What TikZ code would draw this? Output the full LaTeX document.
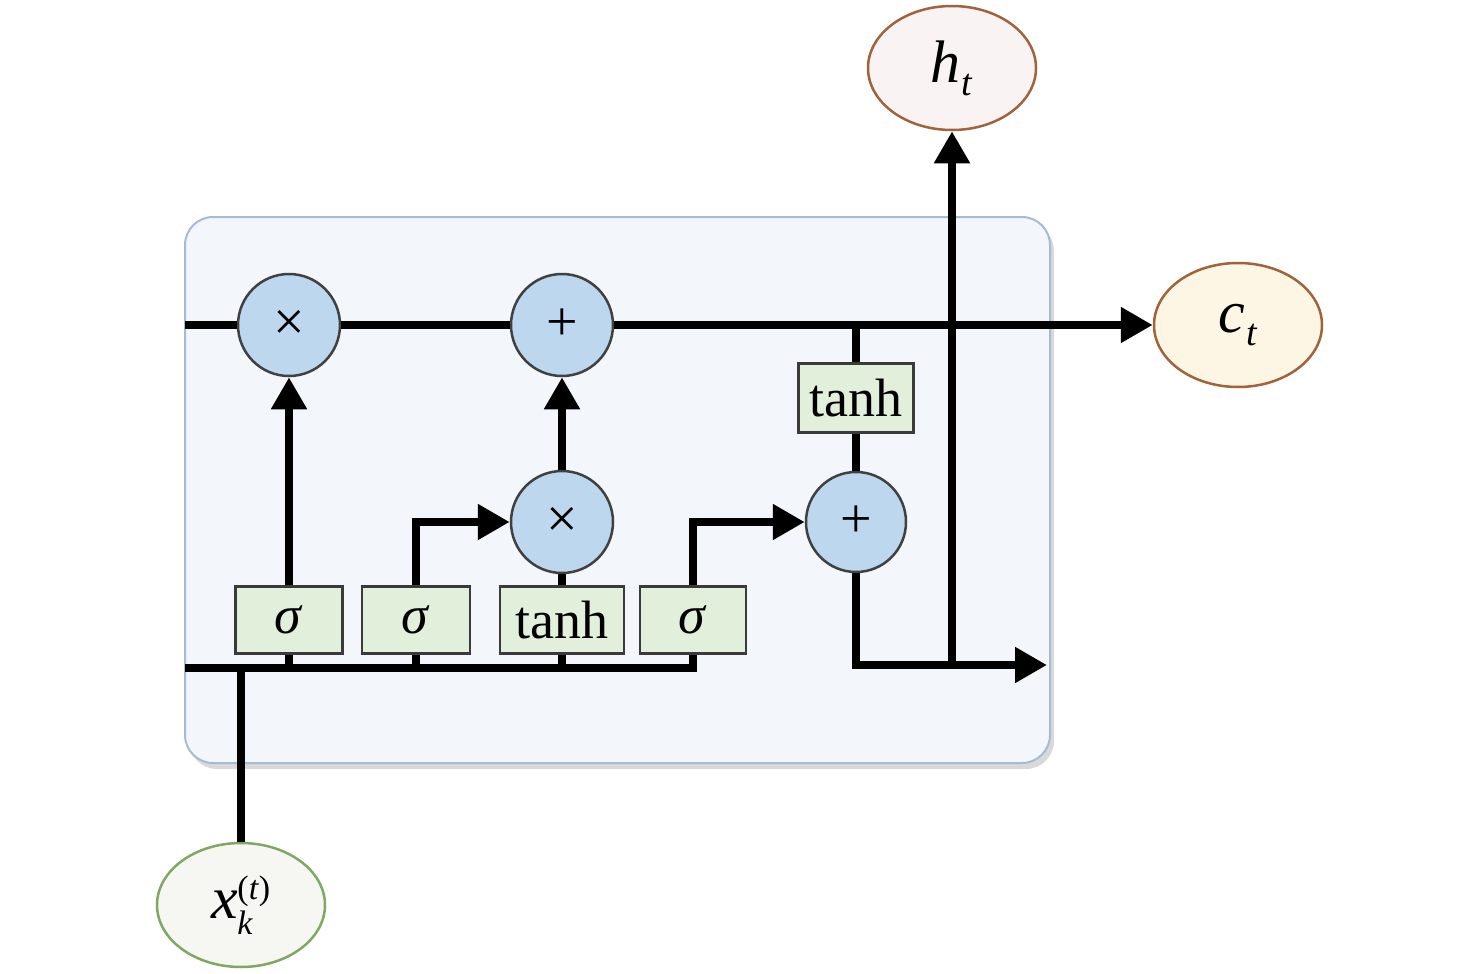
\documentclass[tikz,border=0pt]{standalone}
\usepackage{fontspec}
\setmainfont{Liberation Serif}
\usetikzlibrary{arrows.meta,shadows,shapes.geometric}
\definecolor{boxfill}{HTML}{F3F6FA}
\definecolor{boxdraw}{HTML}{A7BAD6}
\definecolor{opfill}{HTML}{BDD7EE}
\definecolor{opdraw}{HTML}{404040}
\definecolor{actfill}{HTML}{E2EFDA}
\definecolor{actdraw}{HTML}{3A3A3A}
\definecolor{ebrown}{HTML}{A0633A}
\definecolor{hfill}{HTML}{F9F4F3}
\definecolor{cfill}{HTML}{FEF6E4}
\definecolor{xfill}{HTML}{F6F7F3}
\definecolor{xdraw}{HTML}{7FA862}
\begin{document}
\begin{tikzpicture}[x=1pt,y=-1pt,
  wire/.style={line width=8pt},
  arr/.style={wire,-{Triangle[length=32pt,width=34pt]}},
  cellbox/.style={draw=boxdraw,fill=boxfill,line width=2pt,rounded corners=28pt,
    minimum width=865pt,minimum height=546pt,inner sep=0pt,
    drop shadow={opacity=0.3,shadow xshift=4pt,shadow yshift=-6pt}},
  op/.style={circle,draw=opdraw,fill=opfill,line width=2.5pt,minimum size=102pt,inner sep=0pt,
    font=\fontsize{56}{56}\selectfont},
  act/.style={draw=actdraw,fill=actfill,line width=2.5pt,minimum height=67pt,inner sep=0pt,
    font=\fontsize{54}{54}\selectfont},
  io/.style={ellipse,line width=2.5pt,minimum width=168pt,minimum height=124pt,inner sep=0pt,
    font=\fontsize{60}{60}\selectfont}]
\useasboundingbox (0,0) rectangle (1476,974);
\node[cellbox] (cell) at (617.5,490) {};
% operators
\node[op] (m1) at (289,325) {×};
\node[op] (a1) at (562,325) {+};
\node[op] (m2) at (562,522) {×};
\node[op,minimum size=100pt] (a2) at (856,522) {+};
% activations
\node[act,minimum width=115pt,minimum height=69pt] (th1) at (856,398) {tanh};
\node[act,minimum width=107pt] (s1) at (289,620) {\textit{σ}};
\node[act,minimum width=108pt] (s2) at (416,620) {\textit{σ}};
\node[act,minimum width=124pt] (th2) at (562,620) {tanh};
\node[act,minimum width=106pt] (s3) at (693,620) {\textit{σ}};
% inputs / outputs
\node[io,draw=ebrown,fill=hfill] (ht) at (952,68) {\textit{h}\kern1pt\raisebox{-13pt}{\fontsize{38}{38}\selectfont\textit{t}}};
\node[io,draw=ebrown,fill=cfill] (ct) at (1238,325) {\textit{c}\kern1pt\raisebox{-13pt}{\fontsize{38}{38}\selectfont\textit{t}}};
\node[io,draw=xdraw,fill=xfill] (xk) at (241,905) {\textit{x}\kern-1pt\rlap{\raisebox{-16pt}{\fontsize{34}{34}\selectfont\textit{k}}}\raisebox{19pt}{\fontsize{34}{34}\selectfont(\textit{t})}};
% coordinates
\coordinate (cin) at (185,325);
\coordinate (bin) at (185,668);
\coordinate (bend) at (697,668);
\coordinate (outr) at (1047,665);
% top cell line
\draw[wire] (cin) -- (m1.west);
\draw[wire] (m1.east) -- (a1.west);
\draw[arr] (a1.east) -- (ct.west);
% bottom input bus
\draw[wire] (bin) -- (bend);
\draw[wire] (xk.north) -- (xk.north |- bin);
\draw[wire] (s1.south) -- (s1.south |- bin);
\draw[wire] (s2.south) -- (s2.south |- bin);
\draw[wire] (th2.south) -- (th2.south |- bin);
\draw[wire] (s3.south) -- (s3.south |- bin);
% gates
\draw[arr] (s1.north) -- (m1.south);
\draw[arr] (s2.north) |- (m2.west);
\draw[wire] (th2.north) -- (m2.south);
\draw[arr] (m2.north) -- (a1.south);
\draw[arr] (s3.north) |- (a2.west);
\draw[wire] (a2.north) -- (th1.south);
\draw[wire] (th1.north) -- (th1.north |- a1);
% output
\draw[arr] (a2.south) |- (outr);
\draw[arr] (ht.south |- outr) -- (ht.south);
\end{tikzpicture}
\end{document}
